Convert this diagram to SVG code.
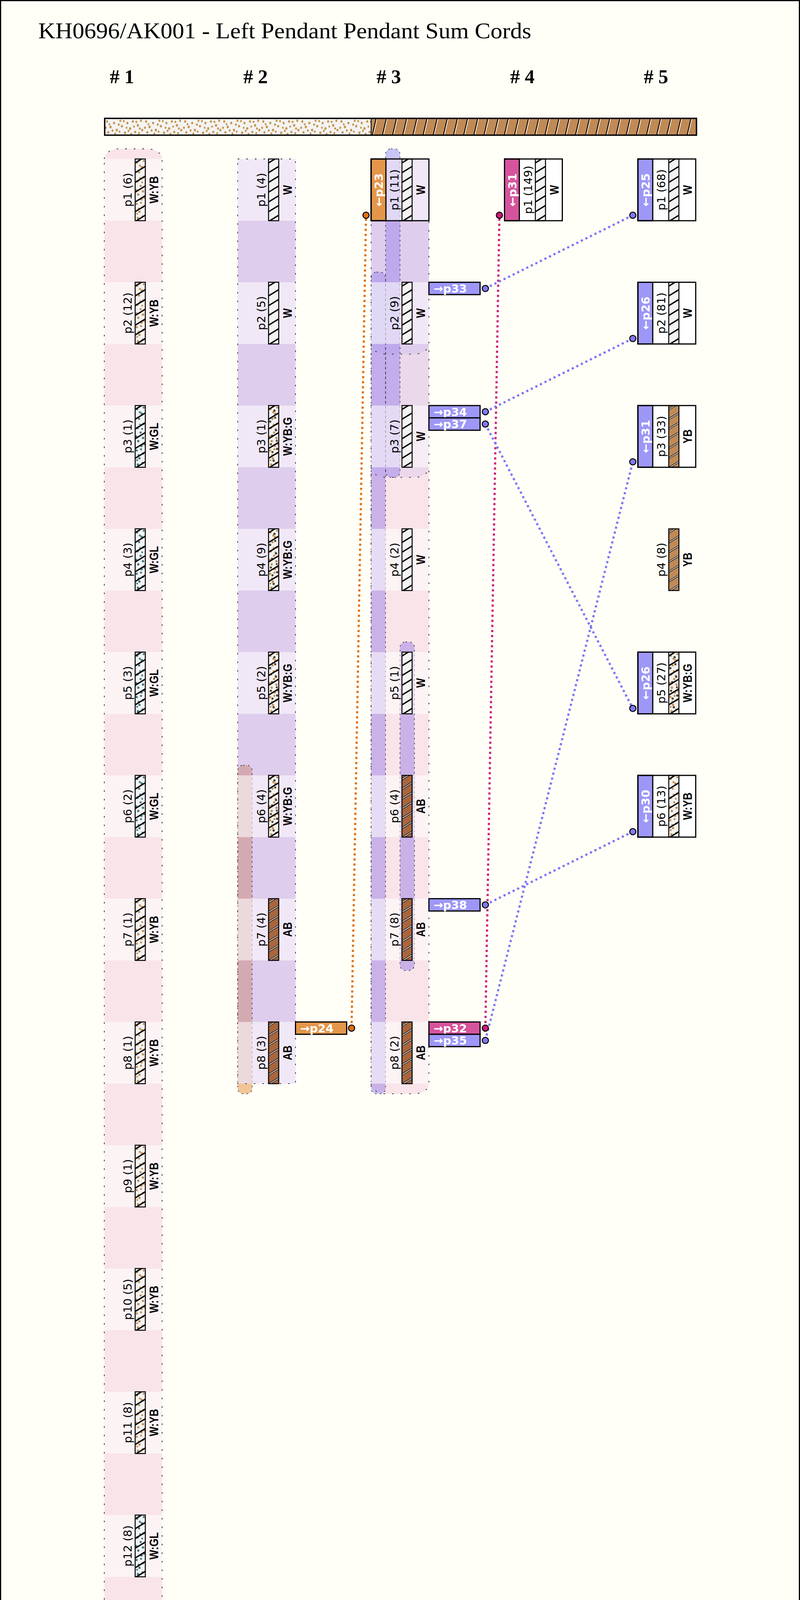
<svg xmlns="http://www.w3.org/2000/svg" width="2048" height="5406" viewBox="0 0 2048 5406">
<defs>
<style>
.ttl{font-family:"Liberation Serif",serif;font-size:58px;fill:#000}
.hdr{font-family:"Liberation Serif",serif;font-size:50px;font-weight:bold;fill:#000}
.pl{font-family:"DejaVu Sans",sans-serif;font-size:29px;text-anchor:middle;fill:#000}
.cl{font-family:"Liberation Sans Narrow","Liberation Sans",sans-serif;font-weight:bold;font-size:32px;text-anchor:middle;fill:#000}
.tab{font-family:"DejaVu Sans",sans-serif;font-weight:bold;font-size:29px;fill:#fff}
.wm{fill:#d4509a;fill-opacity:.15}
.wb{fill:#9a94f5;fill-opacity:.15}
.lb{fill:#9a94f5;fill-opacity:.55}
.lor{fill:#e4964a;fill-opacity:.55}
.cell{fill:#fff;fill-opacity:.55}
.bo{fill:none;stroke:#222;stroke-width:1.8;stroke-dasharray:4 18}
.lo{fill:none;stroke:#222;stroke-width:1.6;stroke-dasharray:3.5 9}
.cb{fill:none;stroke:#000;stroke-width:2.5}
.box{fill:none;stroke:#000;stroke-width:3}
.boxw{fill:#fff}
.tabr{stroke:#000;stroke-width:3}
.to{fill:#e4964a}
.tm{fill:#d6549c}
.tb{fill:#9d97f7}
.conn{fill:none;stroke-width:5.5;stroke-dasharray:5.5 7.5}
.pt{stroke:#000;stroke-width:2.5}
</style>
<clipPath id="cc"><rect width="26" height="158"/></clipPath>
<g id="dA">
<circle cx="5" cy="9" r="3"/><circle cx="17" cy="21" r="3.2"/><circle cx="10" cy="34" r="2.8"/><circle cx="21" cy="47" r="3"/><circle cx="6" cy="57" r="3.2"/><circle cx="14" cy="69" r="2.8"/><circle cx="20" cy="83" r="3"/><circle cx="8" cy="91" r="3"/><circle cx="16" cy="103" r="3.2"/><circle cx="4" cy="115" r="2.8"/><circle cx="20" cy="123" r="3"/><circle cx="11" cy="135" r="3"/><circle cx="19" cy="147" r="2.8"/><circle cx="7" cy="151" r="3"/><circle cx="13" cy="49" r="2.6"/><circle cx="3" cy="79" r="2.6"/><circle cx="22" cy="5" r="2.6"/><circle cx="12" cy="17" r="2.6"/><circle cx="9" cy="127" r="2.6"/><circle cx="23" cy="99" r="2.6"/><circle cx="15" cy="112" r="2.6"/><circle cx="5" cy="140" r="2.4"/><circle cx="18" cy="60" r="2.4"/><circle cx="10" cy="4" r="2.4"/>
</g>
<g id="dB">
<circle cx="15" cy="13" r="3"/><circle cx="4" cy="41" r="3"/><circle cx="19" cy="63" r="3"/><circle cx="9" cy="77" r="3"/><circle cx="22" cy="111" r="3"/><circle cx="13" cy="141" r="3"/><circle cx="6" cy="99" r="2.8"/><circle cx="17" cy="31" r="2.8"/><circle cx="10" cy="119" r="2.8"/><circle cx="21" cy="90" r="2.6"/>
</g>
<path id="sp" d="M0,10 L26,-6 M0,35 L26,19 M0,60 L26,44 M0,85 L26,69 M0,110 L26,94 M0,135 L26,119 M0,160 L26,144 M0,185 L26,169"/>
<g id="sK"><use href="#sp" stroke="#000" stroke-width="3.5"/></g>
<g id="sL"><use href="#sp" stroke="#000" stroke-width="4.5"/><use href="#sp" stroke="#fff" stroke-width="1.8"/></g>
<g id="cW"><g clip-path="url(#cc)"><rect width="26" height="158" fill="#f3f3f3"/><use href="#sK"/></g><rect class="cb" width="26" height="158"/></g>
<g id="cWYB"><g clip-path="url(#cc)"><rect width="26" height="158" fill="#f3f3f3"/><use href="#dA" fill="#c48e50"/><use href="#sK"/></g><rect class="cb" width="26" height="158"/></g>
<g id="cWGL"><g clip-path="url(#cc)"><rect width="26" height="158" fill="#f3f3f3"/><use href="#dA" fill="#3d7a82"/><use href="#sK"/></g><rect class="cb" width="26" height="158"/></g>
<g id="cWYBG"><g clip-path="url(#cc)"><rect width="26" height="158" fill="#f3f3f3"/><use href="#dA" fill="#c48e50"/><use href="#dB" fill="#4b4a36"/><use href="#sK"/></g><rect class="cb" width="26" height="158"/></g>
<g id="cAB"><g clip-path="url(#cc)"><rect width="26" height="158" fill="#a8663e"/><use href="#sL"/></g><rect class="cb" width="26" height="158"/></g>
<g id="cYB"><g clip-path="url(#cc)"><rect width="26" height="158" fill="#c08a56"/><use href="#sL"/></g><rect class="cb" width="26" height="158"/></g>
<pattern id="pBar" patternUnits="userSpaceOnUse" x="268" y="303" width="100" height="43">
<rect width="100" height="43" fill="#f3f3f1"/>
<g fill="#c8944f"><ellipse cx="6" cy="8" rx="2.6" ry="3.3"/><ellipse cx="15" cy="22" rx="2.8" ry="3.4"/><ellipse cx="9" cy="36" rx="2.6" ry="3.2"/><ellipse cx="24" cy="12" rx="2.6" ry="3.3"/><ellipse cx="31" cy="30" rx="2.8" ry="3.4"/><ellipse cx="40" cy="6" rx="2.5" ry="3.1"/><ellipse cx="44" cy="20" rx="2.7" ry="3.3"/><ellipse cx="52" cy="37" rx="2.8" ry="3.4"/><ellipse cx="58" cy="12" rx="2.5" ry="3.2"/><ellipse cx="65" cy="26" rx="2.8" ry="3.4"/><ellipse cx="72" cy="8" rx="2.6" ry="3.3"/><ellipse cx="78" cy="35" rx="2.5" ry="3.2"/><ellipse cx="85" cy="18" rx="2.8" ry="3.4"/><ellipse cx="93" cy="6" rx="2.5" ry="3.2"/><ellipse cx="96" cy="30" rx="2.7" ry="3.3"/><ellipse cx="20" cy="31" rx="2.4" ry="3"/><ellipse cx="36" cy="16" rx="2.4" ry="3"/><ellipse cx="68" cy="40" rx="2.4" ry="3"/><ellipse cx="88" cy="38" rx="2.4" ry="3"/><ellipse cx="3" cy="24" rx="2.4" ry="3"/><ellipse cx="27" cy="39" rx="2.3" ry="2.9"/><ellipse cx="49" cy="7" rx="2.3" ry="2.9"/><ellipse cx="61" cy="32" rx="2.3" ry="2.9"/><ellipse cx="81" cy="9" rx="2.3" ry="2.9"/><ellipse cx="90" cy="26" rx="2.3" ry="2.9"/><ellipse cx="12" cy="15" rx="2.2" ry="2.8"/><ellipse cx="38" cy="34" rx="2.2" ry="2.8"/><ellipse cx="56" cy="24" rx="2.2" ry="2.8"/><ellipse cx="75" cy="21" rx="2.2" ry="2.8"/></g>
</pattern>
<pattern id="pTw" patternUnits="userSpaceOnUse" x="950" y="303" width="26" height="43">
<rect width="26" height="43" fill="#c08a56"/>
<path d="M3,43 L13,0" stroke="#000" stroke-width="2.2"/>
<path d="M5.5,43 L15.5,0" stroke="#fff" stroke-width="1.6"/>
</pattern>
</defs>

<rect x="1.5" y="1.5" width="2045" height="5403" fill="#fffef7" stroke="#000" stroke-width="3"/>

<text class="ttl" x="98" y="98" textLength="1262" lengthAdjust="spacingAndGlyphs">KH0696/AK001 - Left Pendant Pendant Sum Cords</text>

<g id="headers">
<text class="hdr" x="281" y="213"># 1</text>
<text class="hdr" x="623" y="213"># 2</text>
<text class="hdr" x="964" y="213"># 3</text>
<text class="hdr" x="1306" y="213"># 4</text>
<text class="hdr" x="1648" y="213"># 5</text>
</g>

<g id="primary-cord">
<rect x="268" y="303" width="682" height="43" fill="url(#pBar)"/>
<rect x="950" y="303" width="833" height="43" fill="url(#pTw)"/>
<line x1="950" y1="303" x2="950" y2="346" stroke="#000" stroke-width="2"/>
<rect x="268" y="303" width="1515" height="43" fill="none" stroke="#000" stroke-width="3.5"/>
</g>

<g id="bands">
<rect class="lor" x="608.5" y="1959" width="37" height="841.2" rx="14"/>
<rect class="lb" x="987" y="381" width="37" height="841.2" rx="14"/>
<rect class="lb" x="950" y="696.6" width="37" height="2103.6" rx="14"/>
<rect class="lb" x="1024" y="1643.4" width="37" height="841.2" rx="14"/>
<path class="wm" d="M267,407 A38,26 0 0 1 305,381 L377,381 A38,26 0 0 1 415,407 L415,4983.4 L267,4983.4 Z"/>
<path class="wm" d="M608.5,407 h148 v2367.2 h-148 Z"/>
<path class="wm" d="M950,407 L1098,407 L1098,2774.2 A38,26 0 0 1 1060,2800.2 L988,2800.2 A38,26 0 0 1 950,2774.2 Z"/>
<path class="wb" d="M267,4509.8 A38,26 0 0 1 305,4483.8 L377,4483.8 A38,26 0 0 1 415,4509.8 L415,4983.4 L267,4983.4 Z"/>
<path class="wb" d="M608.5,407 h148 v2367.2 h-148 Z"/>
<path class="wb" d="M950,407 L1098,407 L1098,880.6 A38,26 0 0 1 1060,906.6 L988,906.6 A38,26 0 0 1 950,880.6 Z"/>
<path class="wb" d="M267,4194.2 A38,26 0 0 1 305,4168.2 L377,4168.2 A38,26 0 0 1 415,4194.2 L415,4983.4 L267,4983.4 Z"/>
<path class="wb" d="M608.5,407 h148 v2367.2 h-148 Z"/>
<path class="wb" d="M950,407 L1098,407 L1098,1196.2 A38,26 0 0 1 1060,1222.2 L988,1222.2 A38,26 0 0 1 950,1196.2 Z"/>
<rect class="lo" x="608.5" y="1959" width="37" height="841.2" rx="14"/>
<rect class="lo" x="987" y="381" width="37" height="841.2" rx="14"/>
<rect class="lo" x="950" y="696.6" width="37" height="2103.6" rx="14"/>
<rect class="lo" x="1024" y="1643.4" width="37" height="841.2" rx="14"/>
<g class="cells">
<rect class="cell" x="267" y="407" width="148" height="158"/>
<rect class="cell" x="267" y="722.6" width="148" height="158"/>
<rect class="cell" x="267" y="1038.2" width="148" height="158"/>
<rect class="cell" x="267" y="1353.8" width="148" height="158"/>
<rect class="cell" x="267" y="1669.4" width="148" height="158"/>
<rect class="cell" x="267" y="1985" width="148" height="158"/>
<rect class="cell" x="267" y="2300.6" width="148" height="158"/>
<rect class="cell" x="267" y="2616.2" width="148" height="158"/>
<rect class="cell" x="267" y="2931.8" width="148" height="158"/>
<rect class="cell" x="267" y="3247.4" width="148" height="158"/>
<rect class="cell" x="267" y="3563" width="148" height="158"/>
<rect class="cell" x="267" y="3878.6" width="148" height="158"/>
<rect class="cell" x="267" y="4194.2" width="148" height="158"/>
<rect class="cell" x="267" y="4509.8" width="148" height="158"/>
<rect class="cell" x="267" y="4825.4" width="148" height="158"/>
<rect class="cell" x="608.5" y="407" width="148" height="158"/>
<rect class="cell" x="608.5" y="722.6" width="148" height="158"/>
<rect class="cell" x="608.5" y="1038.2" width="148" height="158"/>
<rect class="cell" x="608.5" y="1353.8" width="148" height="158"/>
<rect class="cell" x="608.5" y="1669.4" width="148" height="158"/>
<rect class="cell" x="608.5" y="1985" width="148" height="158"/>
<rect class="cell" x="608.5" y="2300.6" width="148" height="158"/>
<rect class="cell" x="608.5" y="2616.2" width="148" height="158"/>
<rect class="cell" x="950" y="407" width="148" height="158"/>
<rect class="cell" x="950" y="722.6" width="148" height="158"/>
<rect class="cell" x="950" y="1038.2" width="148" height="158"/>
<rect class="cell" x="950" y="1353.8" width="148" height="158"/>
<rect class="cell" x="950" y="1669.4" width="148" height="158"/>
<rect class="cell" x="950" y="1985" width="148" height="158"/>
<rect class="cell" x="950" y="2300.6" width="148" height="158"/>
<rect class="cell" x="950" y="2616.2" width="148" height="158"/>
</g>
<path class="bo" d="M267,407 A38,26 0 0 1 305,381 L377,381 A38,26 0 0 1 415,407 L415,4983.4 L267,4983.4 Z"/>
<path class="bo" d="M608.5,407 h148 v2367.2 h-148 Z"/>
<path class="bo" d="M950,407 L1098,407 L1098,2774.2 A38,26 0 0 1 1060,2800.2 L988,2800.2 A38,26 0 0 1 950,2774.2 Z"/>
<path class="bo" d="M267,4509.8 A38,26 0 0 1 305,4483.8 L377,4483.8 A38,26 0 0 1 415,4509.8" style="stroke-dashoffset:9"/>
<path class="bo" d="M950,880.6 A38,26 0 0 0 988,906.6 L1060,906.6 A38,26 0 0 0 1098,880.6"/>
<path class="bo" d="M267,4194.2 A38,26 0 0 1 305,4168.2 L377,4168.2 A38,26 0 0 1 415,4194.2"/>
<path class="bo" d="M950,1196.2 A38,26 0 0 0 988,1222.2 L1060,1222.2 A38,26 0 0 0 1098,1196.2"/>
</g>

<g id="col1">
<g id="k1-p1"><use href="#cWYB" x="346" y="407"/><text class="pl" transform="translate(337,486) rotate(-90)">p1 (6)</text><text class="cl" transform="translate(405,486) rotate(-90)" textLength="70" lengthAdjust="spacingAndGlyphs">W:YB</text></g>
<g id="k1-p2"><use href="#cWYB" x="346" y="722.6"/><text class="pl" transform="translate(337,801.6) rotate(-90)">p2 (12)</text><text class="cl" transform="translate(405,801.6) rotate(-90)" textLength="70" lengthAdjust="spacingAndGlyphs">W:YB</text></g>
<g id="k1-p3"><use href="#cWGL" x="346" y="1038.2"/><text class="pl" transform="translate(337,1117.2) rotate(-90)">p3 (1)</text><text class="cl" transform="translate(405,1117.2) rotate(-90)" textLength="70" lengthAdjust="spacingAndGlyphs">W:GL</text></g>
<g id="k1-p4"><use href="#cWGL" x="346" y="1353.8"/><text class="pl" transform="translate(337,1432.8) rotate(-90)">p4 (3)</text><text class="cl" transform="translate(405,1432.8) rotate(-90)" textLength="70" lengthAdjust="spacingAndGlyphs">W:GL</text></g>
<g id="k1-p5"><use href="#cWGL" x="346" y="1669.4"/><text class="pl" transform="translate(337,1748.4) rotate(-90)">p5 (3)</text><text class="cl" transform="translate(405,1748.4) rotate(-90)" textLength="70" lengthAdjust="spacingAndGlyphs">W:GL</text></g>
<g id="k1-p6"><use href="#cWGL" x="346" y="1985"/><text class="pl" transform="translate(337,2064) rotate(-90)">p6 (2)</text><text class="cl" transform="translate(405,2064) rotate(-90)" textLength="70" lengthAdjust="spacingAndGlyphs">W:GL</text></g>
<g id="k1-p7"><use href="#cWYB" x="346" y="2300.6"/><text class="pl" transform="translate(337,2379.6) rotate(-90)">p7 (1)</text><text class="cl" transform="translate(405,2379.6) rotate(-90)" textLength="70" lengthAdjust="spacingAndGlyphs">W:YB</text></g>
<g id="k1-p8"><use href="#cWYB" x="346" y="2616.2"/><text class="pl" transform="translate(337,2695.2) rotate(-90)">p8 (1)</text><text class="cl" transform="translate(405,2695.2) rotate(-90)" textLength="70" lengthAdjust="spacingAndGlyphs">W:YB</text></g>
<g id="k1-p9"><use href="#cWYB" x="346" y="2931.8"/><text class="pl" transform="translate(337,3010.8) rotate(-90)">p9 (1)</text><text class="cl" transform="translate(405,3010.8) rotate(-90)" textLength="70" lengthAdjust="spacingAndGlyphs">W:YB</text></g>
<g id="k1-p10"><use href="#cWYB" x="346" y="3247.4"/><text class="pl" transform="translate(337,3326.4) rotate(-90)">p10 (5)</text><text class="cl" transform="translate(405,3326.4) rotate(-90)" textLength="70" lengthAdjust="spacingAndGlyphs">W:YB</text></g>
<g id="k1-p11"><use href="#cWYB" x="346" y="3563"/><text class="pl" transform="translate(337,3642) rotate(-90)">p11 (8)</text><text class="cl" transform="translate(405,3642) rotate(-90)" textLength="70" lengthAdjust="spacingAndGlyphs">W:YB</text></g>
<g id="k1-p12"><use href="#cWGL" x="346" y="3878.6"/><text class="pl" transform="translate(337,3957.6) rotate(-90)">p12 (8)</text><text class="cl" transform="translate(405,3957.6) rotate(-90)" textLength="70" lengthAdjust="spacingAndGlyphs">W:GL</text></g>
<g id="k1-p13"><use href="#cWYB" x="346" y="4194.2"/><text class="pl" transform="translate(337,4273.2) rotate(-90)">p13 (6)</text><text class="cl" transform="translate(405,4273.2) rotate(-90)" textLength="70" lengthAdjust="spacingAndGlyphs">W:YB</text></g>
<g id="k1-p14"><use href="#cWYB" x="346" y="4509.8"/><text class="pl" transform="translate(337,4588.8) rotate(-90)">p14 (6)</text><text class="cl" transform="translate(405,4588.8) rotate(-90)" textLength="70" lengthAdjust="spacingAndGlyphs">W:YB</text></g>
<g id="k1-p15"><use href="#cWYB" x="346" y="4825.4"/><text class="pl" transform="translate(337,4904.4) rotate(-90)">p15 (10)</text><text class="cl" transform="translate(405,4904.4) rotate(-90)" textLength="70" lengthAdjust="spacingAndGlyphs">W:YB</text></g>
</g>

<g id="col2">
<g id="k2-p1"><use href="#cW" x="687.5" y="407"/><text class="pl" transform="translate(678.5,486) rotate(-90)">p1 (4)</text><text class="cl" transform="translate(746.5,486) rotate(-90)" textLength="24.8" lengthAdjust="spacingAndGlyphs">W</text></g>
<g id="k2-p2"><use href="#cW" x="687.5" y="722.6"/><text class="pl" transform="translate(678.5,801.6) rotate(-90)">p2 (5)</text><text class="cl" transform="translate(746.5,801.6) rotate(-90)" textLength="24.8" lengthAdjust="spacingAndGlyphs">W</text></g>
<g id="k2-p3"><use href="#cWYBG" x="687.5" y="1038.2"/><text class="pl" transform="translate(678.5,1117.2) rotate(-90)">p3 (1)</text><text class="cl" transform="translate(746.5,1117.2) rotate(-90)" textLength="99" lengthAdjust="spacingAndGlyphs">W:YB:G</text></g>
<g id="k2-p4"><use href="#cWYBG" x="687.5" y="1353.8"/><text class="pl" transform="translate(678.5,1432.8) rotate(-90)">p4 (9)</text><text class="cl" transform="translate(746.5,1432.8) rotate(-90)" textLength="99" lengthAdjust="spacingAndGlyphs">W:YB:G</text></g>
<g id="k2-p5"><use href="#cWYBG" x="687.5" y="1669.4"/><text class="pl" transform="translate(678.5,1748.4) rotate(-90)">p5 (2)</text><text class="cl" transform="translate(746.5,1748.4) rotate(-90)" textLength="99" lengthAdjust="spacingAndGlyphs">W:YB:G</text></g>
<g id="k2-p6"><use href="#cWYBG" x="687.5" y="1985"/><text class="pl" transform="translate(678.5,2064) rotate(-90)">p6 (4)</text><text class="cl" transform="translate(746.5,2064) rotate(-90)" textLength="99" lengthAdjust="spacingAndGlyphs">W:YB:G</text></g>
<g id="k2-p7"><use href="#cAB" x="687.5" y="2300.6"/><text class="pl" transform="translate(678.5,2379.6) rotate(-90)">p7 (4)</text><text class="cl" transform="translate(746.5,2379.6) rotate(-90)" textLength="37.9" lengthAdjust="spacingAndGlyphs">AB</text></g>
<g id="k2-p8"><use href="#cAB" x="687.5" y="2616.2"/><text class="pl" transform="translate(678.5,2695.2) rotate(-90)">p8 (3)</text><text class="cl" transform="translate(746.5,2695.2) rotate(-90)" textLength="37.9" lengthAdjust="spacingAndGlyphs">AB</text>
<rect class="to tabr" x="756.5" y="2616.2" width="131" height="31.6"/><text class="tab" x="768.5" y="2642.7">→p24</text></g>
</g>

<g id="col3">
<g id="k3-p1"><rect class="to tabr" x="950" y="407" width="38" height="158"/><text class="tab" transform="translate(980,529) rotate(-90)">←p23</text><use href="#cW" x="1029" y="407"/><text class="pl" transform="translate(1020,486) rotate(-90)">p1 (11)</text><text class="cl" transform="translate(1088,486) rotate(-90)" textLength="24.8" lengthAdjust="spacingAndGlyphs">W</text><rect class="box" x="950" y="407" width="148" height="158"/></g>
<g id="k3-p2"><use href="#cW" x="1029" y="722.6"/><text class="pl" transform="translate(1020,801.6) rotate(-90)">p2 (9)</text><text class="cl" transform="translate(1088,801.6) rotate(-90)" textLength="24.8" lengthAdjust="spacingAndGlyphs">W</text>
<rect class="tb tabr" x="1098" y="722.6" width="131" height="31.6"/><text class="tab" x="1110" y="749.1">→p33</text></g>
<g id="k3-p3"><use href="#cW" x="1029" y="1038.2"/><text class="pl" transform="translate(1020,1117.2) rotate(-90)">p3 (7)</text><text class="cl" transform="translate(1088,1117.2) rotate(-90)" textLength="24.8" lengthAdjust="spacingAndGlyphs">W</text>
<rect class="tb tabr" x="1098" y="1038.2" width="131" height="31.6"/><text class="tab" x="1110" y="1064.7">→p34</text>
<rect class="tb tabr" x="1098" y="1069.8" width="131" height="31.6"/><text class="tab" x="1110" y="1096.3">→p37</text></g>
<g id="k3-p4"><use href="#cW" x="1029" y="1353.8"/><text class="pl" transform="translate(1020,1432.8) rotate(-90)">p4 (2)</text><text class="cl" transform="translate(1088,1432.8) rotate(-90)" textLength="24.8" lengthAdjust="spacingAndGlyphs">W</text></g>
<g id="k3-p5"><use href="#cW" x="1029" y="1669.4"/><text class="pl" transform="translate(1020,1748.4) rotate(-90)">p5 (1)</text><text class="cl" transform="translate(1088,1748.4) rotate(-90)" textLength="24.8" lengthAdjust="spacingAndGlyphs">W</text></g>
<g id="k3-p6"><use href="#cAB" x="1029" y="1985"/><text class="pl" transform="translate(1020,2064) rotate(-90)">p6 (4)</text><text class="cl" transform="translate(1088,2064) rotate(-90)" textLength="37.9" lengthAdjust="spacingAndGlyphs">AB</text></g>
<g id="k3-p7"><use href="#cAB" x="1029" y="2300.6"/><text class="pl" transform="translate(1020,2379.6) rotate(-90)">p7 (8)</text><text class="cl" transform="translate(1088,2379.6) rotate(-90)" textLength="37.9" lengthAdjust="spacingAndGlyphs">AB</text>
<rect class="tb tabr" x="1098" y="2300.6" width="131" height="31.6"/><text class="tab" x="1110" y="2327.1">→p38</text></g>
<g id="k3-p8"><use href="#cAB" x="1029" y="2616.2"/><text class="pl" transform="translate(1020,2695.2) rotate(-90)">p8 (2)</text><text class="cl" transform="translate(1088,2695.2) rotate(-90)" textLength="37.9" lengthAdjust="spacingAndGlyphs">AB</text>
<rect class="tm tabr" x="1098" y="2616.2" width="131" height="31.6"/><text class="tab" x="1110" y="2642.7">→p32</text>
<rect class="tb tabr" x="1098" y="2647.8" width="131" height="31.6"/><text class="tab" x="1110" y="2674.3">→p35</text></g>
</g>

<g id="col4">
<g id="k4-p1"><rect class="boxw" x="1291.5" y="407" width="148" height="158"/><rect class="tm tabr" x="1291.5" y="407" width="38" height="158"/><text class="tab" transform="translate(1321.5,529) rotate(-90)">←p31</text><use href="#cW" x="1370.5" y="407"/><text class="pl" transform="translate(1361.5,486) rotate(-90)">p1 (149)</text><text class="cl" transform="translate(1429.5,486) rotate(-90)" textLength="24.8" lengthAdjust="spacingAndGlyphs">W</text><rect class="box" x="1291.5" y="407" width="148" height="158"/></g>
</g>

<g id="col5">
<g id="k5-p1"><rect class="boxw" x="1633" y="407" width="148" height="158"/><rect class="tb tabr" x="1633" y="407" width="38" height="158"/><text class="tab" transform="translate(1663,529) rotate(-90)">←p25</text><use href="#cW" x="1712" y="407"/><text class="pl" transform="translate(1703,486) rotate(-90)">p1 (68)</text><text class="cl" transform="translate(1771,486) rotate(-90)" textLength="24.8" lengthAdjust="spacingAndGlyphs">W</text><rect class="box" x="1633" y="407" width="148" height="158"/></g>
<g id="k5-p2"><rect class="boxw" x="1633" y="722.6" width="148" height="158"/><rect class="tb tabr" x="1633" y="722.6" width="38" height="158"/><text class="tab" transform="translate(1663,844.6) rotate(-90)">←p26</text><use href="#cW" x="1712" y="722.6"/><text class="pl" transform="translate(1703,801.6) rotate(-90)">p2 (81)</text><text class="cl" transform="translate(1771,801.6) rotate(-90)" textLength="24.8" lengthAdjust="spacingAndGlyphs">W</text><rect class="box" x="1633" y="722.6" width="148" height="158"/></g>
<g id="k5-p3"><rect class="boxw" x="1633" y="1038.2" width="148" height="158"/><rect class="tb tabr" x="1633" y="1038.2" width="38" height="158"/><text class="tab" transform="translate(1663,1160.2) rotate(-90)">←p31</text><use href="#cYB" x="1712" y="1038.2"/><text class="pl" transform="translate(1703,1117.2) rotate(-90)">p3 (33)</text><text class="cl" transform="translate(1771,1117.2) rotate(-90)" textLength="36.4" lengthAdjust="spacingAndGlyphs">YB</text><rect class="box" x="1633" y="1038.2" width="148" height="158"/></g>
<g id="k5-p4"><use href="#cYB" x="1712" y="1353.8"/><text class="pl" transform="translate(1703,1432.8) rotate(-90)">p4 (8)</text><text class="cl" transform="translate(1771,1432.8) rotate(-90)" textLength="36.4" lengthAdjust="spacingAndGlyphs">YB</text></g>
<g id="k5-p5"><rect class="boxw" x="1633" y="1669.4" width="148" height="158"/><rect class="tb tabr" x="1633" y="1669.4" width="38" height="158"/><text class="tab" transform="translate(1663,1791.4) rotate(-90)">←p26</text><use href="#cWYBG" x="1712" y="1669.4"/><text class="pl" transform="translate(1703,1748.4) rotate(-90)">p5 (27)</text><text class="cl" transform="translate(1771,1748.4) rotate(-90)" textLength="99" lengthAdjust="spacingAndGlyphs">W:YB:G</text><rect class="box" x="1633" y="1669.4" width="148" height="158"/></g>
<g id="k5-p6"><rect class="boxw" x="1633" y="1985" width="148" height="158"/><rect class="tb tabr" x="1633" y="1985" width="38" height="158"/><text class="tab" transform="translate(1663,2107) rotate(-90)">←p30</text><use href="#cWYB" x="1712" y="1985"/><text class="pl" transform="translate(1703,2064) rotate(-90)">p6 (13)</text><text class="cl" transform="translate(1771,2064) rotate(-90)" textLength="70" lengthAdjust="spacingAndGlyphs">W:YB</text><rect class="box" x="1633" y="1985" width="148" height="158"/></g>
</g>

<g id="connectors">
<path class="conn" stroke="#e07010" d="M900,2632 L937,551"/>
<path class="conn" stroke="#d0187a" d="M1242.5,2632 L1278.5,551"/>
<path class="conn" stroke="#7b74f8" d="M1242.5,738.4 L1620,551"/>
<path class="conn" stroke="#7b74f8" d="M1242.5,1054 L1620,866.6"/>
<path class="conn" stroke="#7b74f8" d="M1242.5,1085.6 L1620,1813.4"/>
<path class="conn" stroke="#7b74f8" d="M1242.5,2663.6 L1620,1182.2"/>
<path class="conn" stroke="#7b74f8" d="M1242.5,2316.4 L1620,2129"/>
<circle class="pt" cx="900" cy="2632" r="8" fill="#e07010"/>
<circle class="pt" cx="937" cy="551" r="8" fill="#e07010"/>
<circle class="pt" cx="1242.5" cy="2632" r="8" fill="#d0187a"/>
<circle class="pt" cx="1278.5" cy="551" r="8" fill="#d0187a"/>
<circle class="pt" cx="1242.5" cy="738.4" r="8" fill="#8078f4"/>
<circle class="pt" cx="1242.5" cy="1054" r="8" fill="#8078f4"/>
<circle class="pt" cx="1242.5" cy="1085.6" r="8" fill="#8078f4"/>
<circle class="pt" cx="1242.5" cy="2316.4" r="8" fill="#8078f4"/>
<circle class="pt" cx="1242.5" cy="2663.6" r="8" fill="#8078f4"/>
<circle class="pt" cx="1620" cy="551" r="8" fill="#8078f4"/>
<circle class="pt" cx="1620" cy="866.6" r="8" fill="#8078f4"/>
<circle class="pt" cx="1620" cy="1182.2" r="8" fill="#8078f4"/>
<circle class="pt" cx="1620" cy="1813.4" r="8" fill="#8078f4"/>
<circle class="pt" cx="1620" cy="2129" r="8" fill="#8078f4"/>
</g>
</svg>
